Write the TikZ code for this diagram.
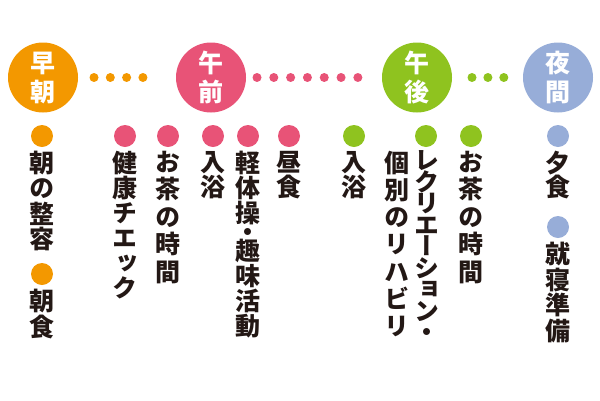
\documentclass[tikz,border=0pt]{standalone}
\usepackage{fontspec}
\newfontfamily\jp[RawFeature=+vert]{Noto Sans CJK JP}
\definecolor{cOr}{RGB}{243,152,0}
\definecolor{cPk}{RGB}{232,83,119}
\definecolor{cGr}{RGB}{143,195,31}
\definecolor{cBl}{RGB}{151,173,216}
\definecolor{txt}{RGB}{35,24,21}
\newcommand\mycolfont[2]{\jp#2\fontsize{25}{#1}\selectfont\lineskiplimit=-100pt\relax}
\begin{document}
\begin{tikzpicture}[x=1pt,y=-1pt,
  every node/.style={inner sep=0pt, outer sep=0pt},
  stage/.style={circle, fill=#1, minimum size=70pt, text=white, align=center,
    font={\mycolfont{29}{\bfseries}}},
  bul/.style={circle, fill=#1, minimum size=22pt},
  col/.style={anchor=north, align=center, text=txt,
    font={\mycolfont{#1}{\bfseries}}},
  dots/.style 2 args={draw=#1, line width=9pt, line cap=round, dash pattern=on 0.01pt off #2}]
\useasboundingbox (0,0) rectangle (600,400);
% stage circles
\node[stage=cOr] (m1) at (43,77.5) {早\\朝};
\node[stage=cPk] (m2) at (211,77.5) {午\\前};
\node[stage=cGr] (m3) at (417,77.5) {午\\後};
\node[stage=cBl] (m4) at (558,77.5) {夜\\間};
% dotted connectors
\draw[dots={cOr}{16.3pt}, shorten <=16pt, shorten >=33pt] (m1.east) -- (m2.west);
\draw[dots={cPk}{16.8pt}, shorten <=11pt, shorten >=24pt] (m2.east) -- (m3.west);
\draw[dots={cGr}{15.9pt}, shorten <=20pt, shorten >=19pt] (m3.east) -- (m4.west);
% 早朝
\node[bul=cOr] (b1) at (42,136) {};
\node[col=25.5] (t1) at (42,151) {朝\\の\\整\\容};
\node[bul=cOr] (b2) at (42,274) {};
\node[col=26] (t2) at (42,289) {朝\\食};
% 午前
\node[bul=cPk] (b3) at (125,136) {};
\node[col=25] (t3) at (125,151) {健\\康\\チ\\エ\\ッ\\ク};
\node[bul=cPk] (b4) at (168,136) {};
\node[col=27.5] (t4) at (168,151) {お\\茶\\の\\時\\間};
\node[bul=cPk] (b5) at (213,136) {};
\node[col=25.5] (t5) at (213,151) {入\\浴};
\node[bul=cPk] (b6) at (248,136) {};
\node[col=25] (t6) at (248,151) {軽\\体\\操\\[-6pt]・\\[-6pt]趣\\味\\活\\動};
\node[bul=cPk] (b7) at (289,136) {};
\node[col=25] (t7) at (289,151) {昼\\食};
% 午後
\node[bul=cGr] (b8) at (354,136) {};
\node[col=25.5] (t8) at (354,151) {入\\浴};
\node[bul=cGr] (b9) at (426,136) {};
\node[col=21.5] (t9a) at (427,151) {レ\\ク\\リ\\エ\\ー\\シ\\ョ\\ン\\・};
\node[col=27.2] (t9b) at (397,151) {個\\別\\の\\リ\\ハ\\ビ\\リ};
\node[bul=cGr] (b10) at (471,136) {};
\node[col=27.5] (t10) at (471,151) {お\\茶\\の\\時\\間};
% 夜間
\node[bul=cBl] (b11) at (558,136) {};
\node[col=24.5] (t11) at (558,151) {夕\\食};
\node[bul=cBl] (b12) at (558,227) {};
\node[col=25.7] (t12) at (558,242) {就\\寝\\準\\備};
\end{tikzpicture}
\end{document}
